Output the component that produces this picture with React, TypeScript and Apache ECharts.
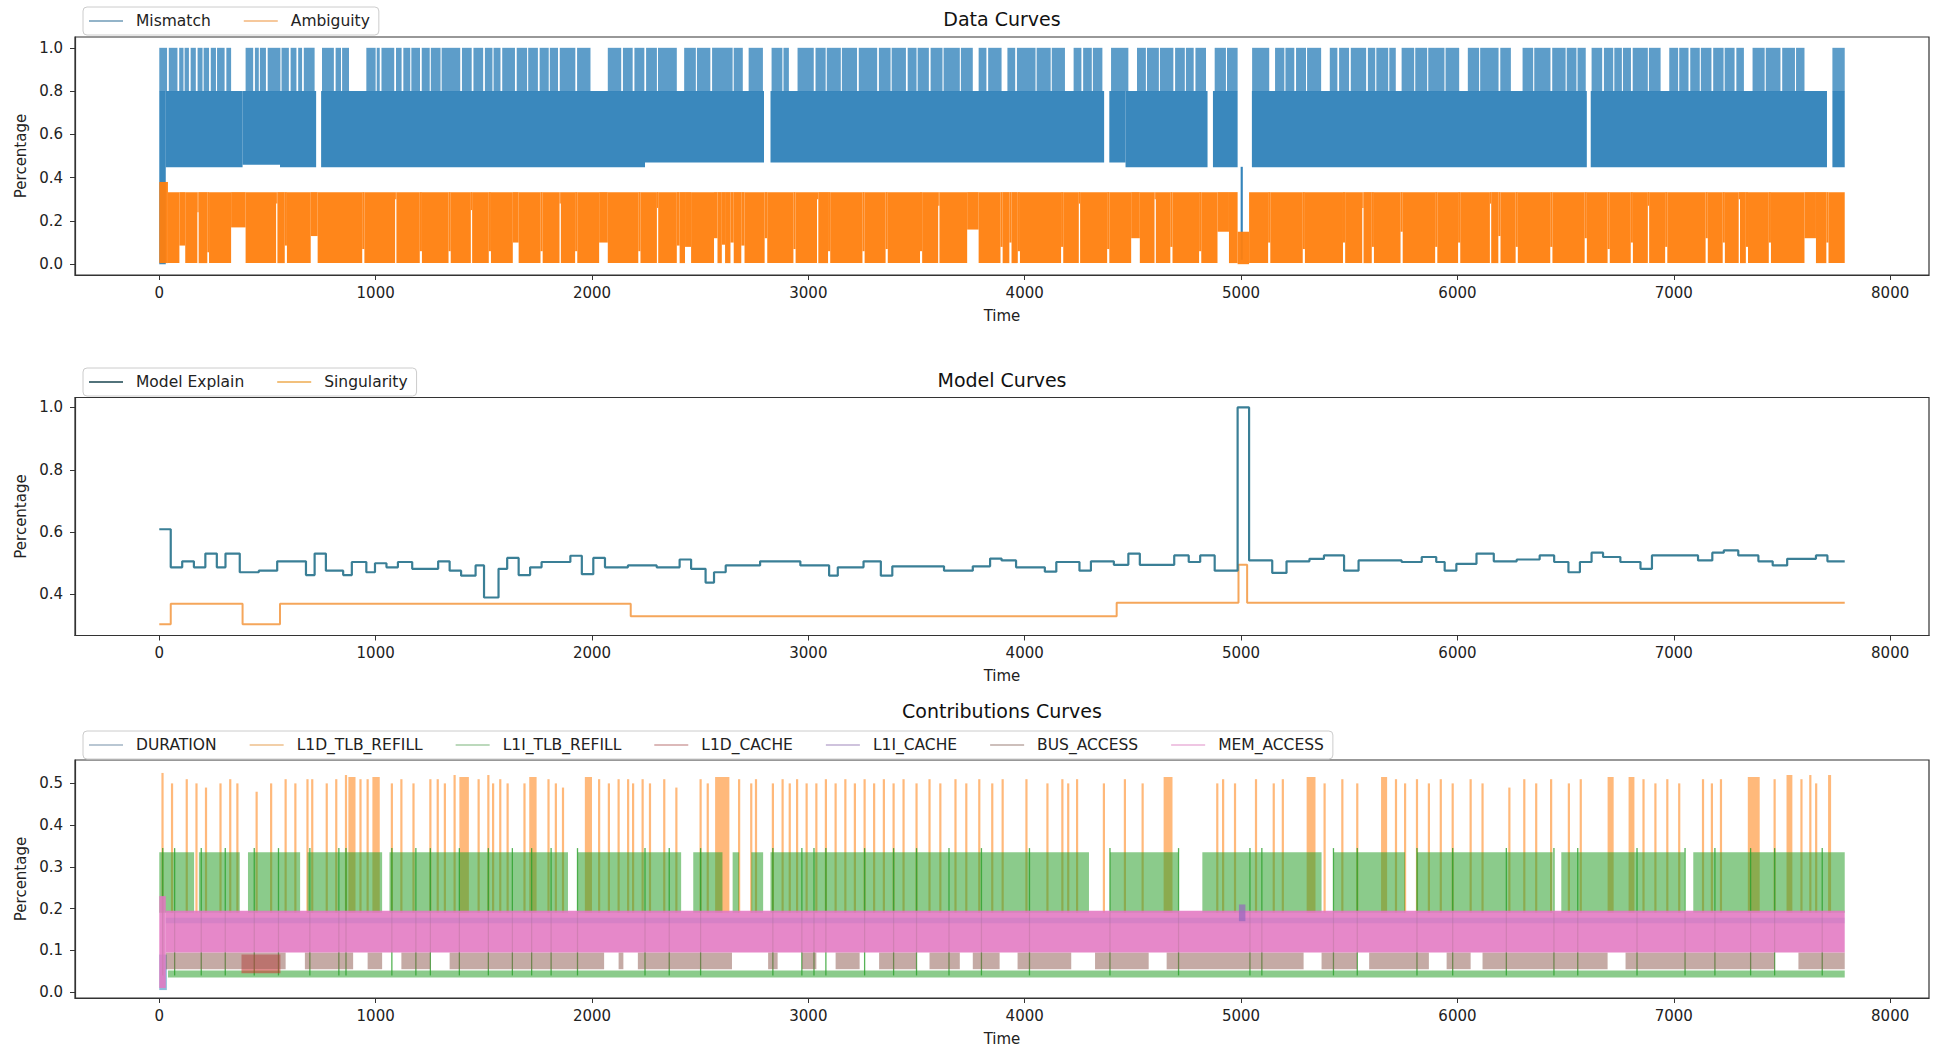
import React, { useEffect, useRef } from "react";
import * as echarts from "echarts";

const FONT = "DejaVu Sans";
const T_END = 7790;

// ---------- axes ----------
const xTicks = [0, 1000, 2000, 3000, 4000, 5000, 6000, 7000, 8000];
const yTicksData = [0, 0.2, 0.4, 0.6, 0.8, 1.0];
const yTicksModel = [0.4, 0.6, 0.8, 1.0];
const yTicksContrib = [0, 0.1, 0.2, 0.3, 0.4, 0.5];

// ---------- Data Curves ----------
// Mismatch: lower edge of the oscillation, step points [t, value]
const mismatchBase = [[0, 0.0], [30, 0.448], [385, 0.46], [558, 0.448], [2245, 0.47], [4466, 0.448]];
const mismatchMid = 0.8;
const mismatchTop = 1.0;
// stretches where Mismatch stays at its lower level
const mismatchBandGaps = [[725, 748], [2795, 2825], [4367, 4391], [4845, 4870], [4984, 5050], [6598, 6616], [7708, 7733]];
// stretches where Mismatch does not reach 1.0
const mismatchPeakGaps = [
  [36, 44], [84, 92], [112, 117], [137, 145], [169, 177], [200, 205], [230, 238], [262, 267], [302, 310], [332, 399],
  [434, 442], [460, 465], [493, 501], [560, 565], [599, 607], [634, 642], [660, 668], [718, 752], [807, 815], [840, 845],
  [877, 957], [1000, 1005], [1019, 1027], [1086, 1094], [1120, 1128], [1160, 1165], [1205, 1213], [1250, 1255], [1300, 1305],
  [1391, 1399], [1444, 1452], [1497, 1505], [1540, 1545], [1577, 1585], [1644, 1652], [1700, 1705], [1750, 1758], [1800, 1805],
  [1843, 1851], [1923, 1931], [1993, 2073], [2135, 2143], [2188, 2196], [2242, 2250], [2300, 2305], [2392, 2426], [2480, 2485],
  [2547, 2555], [2650, 2655], [2697, 2724], [2790, 2830], [2880, 2885], [2910, 2950], [3025, 3033], [3080, 3085], [3150, 3155],
  [3225, 3233], [3318, 3326], [3380, 3385], [3451, 3459], [3500, 3505], [3557, 3565], [3620, 3625], [3700, 3705], [3760, 3787],
  [3823, 3831], [3893, 3920], [3956, 3964], [4050, 4055], [4120, 4125], [4186, 4226], [4262, 4270], [4310, 4315], [4359, 4399],
  [4479, 4519], [4560, 4565], [4620, 4625], [4687, 4695], [4740, 4745], [4781, 4789], [4838, 4878], [4930, 4935], [4984, 5051],
  [5130, 5157], [5200, 5205], [5246, 5254], [5300, 5305], [5370, 5410], [5445, 5453], [5499, 5507], [5578, 5586], [5620, 5625],
  [5680, 5685], [5715, 5742], [5800, 5805], [5860, 5865], [5940, 5945], [6008, 6048], [6100, 6105], [6190, 6198], [6247, 6301],
  [6350, 6355], [6430, 6438], [6500, 6505], [6550, 6555], [6593, 6620], [6669, 6677], [6720, 6725], [6760, 6765], [6802, 6810],
  [6880, 6885], [6939, 6979], [7020, 7025], [7068, 7076], [7120, 7125], [7174, 7182], [7230, 7235], [7281, 7289], [7324, 7364],
  [7420, 7425], [7493, 7501], [7560, 7565], [7604, 7733],
];
const mismatchDip = [[4998, 5008, 0.02, 0.45]];

// Ambiguity: upper / lower levels and notches [t0, t1, raisedLow(, top)]
const ambiguityStart = [[0, 40, 0.005, 0.38]];
const ambiguityLow = 0.005;
const ambiguityHigh = 0.333;
const ambiguityNotches = [
  [93, 120, 0.086], [176, 182, 0.24], [222, 230, 0.055], [332, 399, 0.17], [540, 546, 0.28], [580, 590, 0.086],
  [700, 732, 0.13], [938, 948, 0.07], [1090, 1096, 0.3], [1204, 1214, 0.06], [1337, 1347, 0.06], [1440, 1446, 0.25],
  [1523, 1533, 0.06], [1634, 1661, 0.1], [1762, 1772, 0.06], [1850, 1856, 0.28], [1922, 1932, 0.06], [2033, 2073, 0.1],
  [2214, 2224, 0.06], [2300, 2306, 0.26], [2392, 2405, 0.086], [2430, 2458, 0.08], [2564, 2580, 0.12], [2600, 2615, 0.09],
  [2640, 2655, 0.1], [2690, 2705, 0.086], [2798, 2810, 0.12], [2931, 2941, 0.07], [3040, 3046, 0.3], [3091, 3101, 0.06],
  [3250, 3260, 0.06], [3357, 3367, 0.07], [3516, 3526, 0.06], [3600, 3606, 0.27], [3734, 3787, 0.16], [3888, 3898, 0.08],
  [3929, 3939, 0.1], [3968, 3978, 0.06], [4168, 4178, 0.08], [4250, 4256, 0.28], [4381, 4391, 0.07], [4492, 4532, 0.12],
  [4600, 4606, 0.3], [4673, 4683, 0.08], [4806, 4816, 0.06], [4891, 4944, 0.15], [4984, 5037, 0, 0.15], [5125, 5135, 0.1],
  [5285, 5295, 0.07], [5471, 5481, 0.1], [5560, 5566, 0.26], [5604, 5614, 0.08], [5737, 5747, 0.15], [5897, 5907, 0.08],
  [6003, 6013, 0.1], [6150, 6156, 0.28], [6189, 6199, 0.13], [6269, 6279, 0.08], [6429, 6439, 0.08], [6588, 6598, 0.12],
  [6694, 6704, 0.07], [6801, 6811, 0.1], [6880, 6886, 0.27], [6960, 6970, 0.08], [7147, 7157, 0.12], [7226, 7236, 0.1],
  [7300, 7306, 0.3], [7333, 7343, 0.08], [7439, 7449, 0.1], [7604, 7657, 0.12], [7705, 7715, 0.1],
];

// ---------- Model Curves (step points [t, value]) ----------
const modelExplain = [
  [0, 0.609], [53, 0.487], [106, 0.506], [160, 0.487], [213, 0.531], [266, 0.487], [306, 0.531], [372, 0.471], [460, 0.476],
  [545, 0.506], [678, 0.462], [718, 0.531], [770, 0.476], [850, 0.462], [890, 0.504], [957, 0.471], [997, 0.5], [1050, 0.487],
  [1103, 0.504], [1169, 0.482], [1289, 0.506], [1342, 0.476], [1395, 0.46], [1462, 0.493], [1501, 0.39], [1568, 0.482],
  [1608, 0.517], [1661, 0.462], [1714, 0.487], [1767, 0.504], [1900, 0.524], [1953, 0.465], [2006, 0.517], [2060, 0.487],
  [2166, 0.493], [2299, 0.487], [2405, 0.512], [2458, 0.482], [2525, 0.438], [2564, 0.471], [2618, 0.493], [2777, 0.506],
  [2963, 0.493], [3096, 0.46], [3136, 0.487], [3255, 0.506], [3335, 0.46], [3388, 0.49], [3627, 0.476], [3760, 0.49],
  [3840, 0.515], [3893, 0.509], [3960, 0.487], [4093, 0.473], [4146, 0.504], [4253, 0.476], [4306, 0.506], [4412, 0.495],
  [4479, 0.531], [4532, 0.495], [4691, 0.525], [4758, 0.504], [4811, 0.525], [4878, 0.476], [4984, 1.0], [5037, 0.509],
  [5144, 0.469], [5210, 0.506], [5316, 0.514], [5383, 0.525], [5476, 0.476], [5543, 0.509], [5742, 0.504], [5835, 0.52],
  [5902, 0.504], [5941, 0.476], [5995, 0.498], [6088, 0.531], [6168, 0.506], [6274, 0.512], [6380, 0.525], [6447, 0.504],
  [6513, 0.471], [6566, 0.504], [6620, 0.534], [6673, 0.52], [6753, 0.504], [6846, 0.482], [6899, 0.525], [7112, 0.509],
  [7178, 0.534], [7231, 0.541], [7298, 0.525], [7391, 0.506], [7457, 0.493], [7524, 0.514], [7657, 0.525], [7710, 0.506],
  [7790, 0.506],
];
const singularity = [
  [0, 0.304], [53, 0.37], [385, 0.304], [558, 0.37], [2179, 0.33], [4425, 0.373], [4988, 0.495], [5028, 0.373], [7790, 0.373],
];

// ---------- Contributions Curves ----------
const durationStart = [[0, 35, 0.005, 0.09]];
// L1D_TLB_REFILL spikes [t0, t1, top] rising from the MEM band
const tlbSpikeBase = 0.19;
const l1dTlbSpikes = [
  [12, 18, 0.525], [56, 62, 0.5], [124, 130, 0.51], [169, 175, 0.5], [213, 219, 0.49], [280, 286, 0.5], [325, 331, 0.51],
  [358, 364, 0.5], [447, 453, 0.48], [514, 520, 0.5], [581, 587, 0.51], [626, 632, 0.5], [682, 688, 0.51], [704, 710, 0.51],
  [771, 777, 0.5], [815, 821, 0.51], [860, 866, 0.52], [874, 907, 0.515], [927, 933, 0.51], [960, 966, 0.51], [985, 1019, 0.515],
  [1072, 1078, 0.5], [1116, 1122, 0.51], [1172, 1178, 0.5], [1250, 1256, 0.51], [1284, 1290, 0.51], [1317, 1323, 0.5],
  [1362, 1368, 0.52], [1387, 1431, 0.515], [1473, 1479, 0.51], [1518, 1524, 0.52], [1540, 1546, 0.5], [1573, 1579, 0.51],
  [1607, 1613, 0.5], [1685, 1691, 0.5], [1710, 1744, 0.515], [1796, 1802, 0.51], [1830, 1836, 0.5], [1863, 1869, 0.49],
  [1967, 2000, 0.515], [2030, 2036, 0.51], [2075, 2081, 0.5], [2120, 2126, 0.51], [2164, 2170, 0.51], [2187, 2193, 0.5],
  [2231, 2237, 0.51], [2265, 2271, 0.5], [2331, 2337, 0.51], [2387, 2393, 0.49], [2499, 2505, 0.51], [2532, 2538, 0.5],
  [2569, 2635, 0.515], [2677, 2683, 0.51], [2733, 2739, 0.5], [2755, 2761, 0.51], [2833, 2839, 0.5], [2878, 2884, 0.51],
  [2911, 2917, 0.5], [2945, 2951, 0.51], [2989, 2995, 0.5], [3034, 3040, 0.5], [3078, 3084, 0.51], [3123, 3129, 0.5],
  [3168, 3174, 0.51], [3212, 3218, 0.5], [3257, 3263, 0.51], [3301, 3307, 0.5], [3346, 3352, 0.51], [3391, 3397, 0.5],
  [3437, 3443, 0.51], [3497, 3503, 0.5], [3557, 3563, 0.51], [3607, 3613, 0.5], [3677, 3683, 0.51], [3727, 3733, 0.5],
  [3787, 3793, 0.51], [3847, 3853, 0.5], [3895, 3901, 0.51], [4005, 4011, 0.51], [4102, 4108, 0.5], [4171, 4177, 0.51],
  [4198, 4204, 0.5], [4239, 4245, 0.51], [4363, 4369, 0.5], [4460, 4466, 0.51], [4542, 4548, 0.5], [4642, 4683, 0.515],
  [4887, 4893, 0.5], [4914, 4920, 0.51], [4969, 4975, 0.5], [5066, 5072, 0.51], [5148, 5154, 0.5], [5190, 5196, 0.51],
  [5303, 5344, 0.515], [5383, 5389, 0.5], [5465, 5471, 0.51], [5534, 5540, 0.5], [5647, 5675, 0.515], [5713, 5719, 0.51],
  [5755, 5761, 0.5], [5810, 5816, 0.51], [5865, 5871, 0.5], [5920, 5926, 0.51], [5975, 5981, 0.5], [6058, 6064, 0.51],
  [6113, 6119, 0.5], [6237, 6243, 0.49], [6306, 6312, 0.51], [6361, 6367, 0.5], [6430, 6436, 0.51], [6512, 6518, 0.5],
  [6567, 6573, 0.51], [6694, 6722, 0.515], [6791, 6818, 0.515], [6857, 6863, 0.51], [6912, 6918, 0.5], [6967, 6973, 0.51],
  [7022, 7028, 0.5], [7132, 7138, 0.51], [7173, 7179, 0.5], [7215, 7221, 0.51], [7342, 7397, 0.515], [7463, 7469, 0.51],
  [7521, 7548, 0.52], [7587, 7593, 0.51], [7628, 7634, 0.52], [7655, 7661, 0.5], [7713, 7727, 0.52],
];
// L1I_TLB_REFILL: main band, its gaps, strongest lines, bottom level
const l1iTlbBand = [0.19, 0.335];
const l1iTlbGaps = [
  [161, 183], [372, 410], [651, 685], [1030, 1064], [1889, 1933], [2412, 2468], [2603, 2650], [2680, 2736], [2791, 2825],
  [4297, 4394], [4711, 4821], [5372, 5427], [5758, 5813], [6440, 6480], [7050, 7090],
];
const l1iTlbLines = [
  16, 71, 194, 305, 439, 551, 696, 830, 863, 1075, 1186, 1253, 1387, 1521, 1632, 1721, 1811, 1933, 2245, 2357, 2502, 2836,
  2970, 3026, 3081, 3260, 3394, 3500, 3650, 3800, 4022, 4394, 4711, 5041, 5096, 5427, 5537, 5813, 5978, 6226, 6446, 6556,
  6830, 7052, 7190, 7355, 7466, 7686,
];
const l1iTlbLineRange = [0.04, 0.345];
const l1iTlbFloor = [[40, T_END, 0.035, 0.052]];
const l1dCacheBlock = [[380, 560, 0.045, 0.09]];
const l1iCacheBand = [[30, T_END, 0.165, 0.178]];
const l1iCacheBump = [[4990, 5020, 0.17, 0.21]];
const busAccessBand = [0.055, 0.095];
const busAccessGaps = [
  [584, 673], [896, 963], [1030, 1119], [1253, 1342], [2056, 2123], [2145, 2212], [2647, 2814], [2858, 2970], [3037, 3126],
  [3237, 3327], [3500, 3560], [3700, 3760], [3884, 3967], [4215, 4325], [4573, 4656], [5289, 5372], [5537, 5592], [5868, 5950],
  [6061, 6116], [6694, 6777], [7466, 7576],
];
const memAccessStart = [[0, 30, 0.01, 0.23]];
const memAccessBand = [0.095, 0.195];

// ---------- helpers ----------
type Seg = number[];
function splitBand(t0: number, t1: number, lo: number, hi: number, holes: number[][]): Seg[] {
  const segs: Seg[] = [];
  let cur = t0;
  const hs = holes.filter((h) => h[1] > t0 && h[0] < t1).sort((a, b) => a[0] - b[0]);
  for (const h of hs) {
    const a = Math.max(h[0], cur);
    const b = Math.min(h[1], t1);
    if (b <= a) continue;
    if (a > cur) segs.push([cur, a, lo, hi]);
    if (h.length >= 3) {
      const nlo = h[2];
      const nhi = h.length >= 4 ? h[3] : hi;
      if (nhi > nlo) segs.push([a, b, nlo, nhi]);
    }
    cur = b;
  }
  if (cur < t1) segs.push([cur, t1, lo, hi]);
  return segs;
}

function band(name: string, data: Seg[], color: string, opacity: number, gi: number, z = 2, minW = 1) {
  return {
    type: "custom",
    name,
    xAxisIndex: gi,
    yAxisIndex: gi,
    data,
    z,
    silent: true,
    encode: { x: [0, 1], y: [2, 3] },
    itemStyle: { color },
    renderItem: (_p: any, api: any) => {
      const a = api.coord([api.value(0), api.value(3)]);
      const b = api.coord([api.value(1), api.value(2)]);
      const w = Math.max(b[0] - a[0], minW);
      return {
        type: "rect",
        shape: { x: (a[0] + b[0]) / 2 - w / 2, y: a[1], width: w, height: Math.max(b[1] - a[1], 1) },
        style: { fill: color, opacity },
      };
    },
  };
}

function buildOption() {
  // Mismatch
  const mmLower: Seg[] = [];
  mismatchBase.forEach(([t0, base], i) => {
    const t1 = i + 1 < mismatchBase.length ? mismatchBase[i + 1][0] : T_END;
    mmLower.push(...splitBand(t0, t1, base, mismatchMid, mismatchBandGaps));
  });
  const mmUpper = splitBand(0, T_END, mismatchMid, mismatchTop, mismatchPeakGaps);
  const amb = [...ambiguityStart, ...splitBand(40, T_END, ambiguityLow, ambiguityHigh, ambiguityNotches)];

  const orange = l1dTlbSpikes.map(([a, b, top]) => [a, b, tlbSpikeBase, top]);
  const greenBand = splitBand(0, T_END, l1iTlbBand[0], l1iTlbBand[1], l1iTlbGaps);
  const greenLines = l1iTlbLines.map((t) => [t - 3, t + 3, l1iTlbLineRange[0], l1iTlbLineRange[1]]);
  const brown = splitBand(30, T_END, busAccessBand[0], busAccessBand[1], busAccessGaps);
  const pink = [...memAccessStart, [30, T_END, memAccessBand[0], memAccessBand[1]]];

  const gridDefs = [
    { left: 75, top: 37, width: 1854, height: 238 },
    { left: 75, top: 397.5, width: 1854, height: 238 },
    { left: 75, top: 760, width: 1854, height: 238 },
  ];
  const yDefs = [
    { min: -0.05, max: 1.05, ticks: yTicksData },
    { min: 0.268, max: 1.032, ticks: yTicksModel },
    { min: -0.014, max: 0.556, ticks: yTicksContrib },
  ];
  const axisColor = "#333";
  const textColor = "#222";

  const legendBase = {
    left: 83,
    orient: "horizontal",
    icon: "rect",
    itemWidth: 34,
    itemHeight: 2,
    itemGap: 33,
    padding: [6, 9, 6, 6],
    backgroundColor: "rgba(255,255,255,0.9)",
    borderColor: "#cccccc",
    borderWidth: 1,
    borderRadius: 4,
    selectedMode: false,
    textStyle: { fontSize: 15.5, color: textColor, fontFamily: FONT, padding: [0, 0, 0, 8] },
    z: 10,
  };

  return {
    animation: false,
    backgroundColor: "#ffffff",
    grid: gridDefs.map((g) => ({ ...g, show: true, borderColor: axisColor, borderWidth: 1.2, backgroundColor: "transparent" })),
    xAxis: gridDefs.map((_g, i) => ({
      type: "value",
      gridIndex: i,
      min: -389.5,
      max: 8179.5,
      splitNumber: 8,
      axisLine: { show: true, onZero: false, lineStyle: { color: axisColor, width: 1.2 } },
      axisTick: { show: true, length: 5, lineStyle: { color: axisColor }, customValues: xTicks },
      axisLabel: {
        customValues: xTicks,
        formatter: (v: number) => String(v),
        fontSize: 15,
        color: textColor,
        fontFamily: FONT,
        margin: 10,
      },
      splitLine: { show: false },
      name: "Time",
      nameLocation: "middle",
      nameGap: 33,
      nameTextStyle: { fontSize: 15, color: textColor, fontFamily: FONT },
    })),
    yAxis: yDefs.map((y, i) => ({
      type: "value",
      gridIndex: i,
      min: y.min,
      max: y.max,
      axisLine: { show: true, onZero: false, lineStyle: { color: axisColor, width: 1.2 } },
      axisTick: { show: true, length: 5, lineStyle: { color: axisColor }, customValues: y.ticks },
      axisLabel: {
        customValues: y.ticks,
        formatter: (v: number) => v.toFixed(1),
        fontSize: 15,
        color: textColor,
        fontFamily: FONT,
        margin: 12,
      },
      splitLine: { show: false },
      name: "Percentage",
      nameLocation: "middle",
      nameRotate: 90,
      nameGap: 45,
      nameTextStyle: { fontSize: 15, color: textColor, fontFamily: FONT },
    })),
    legend: [
      {
        ...legendBase,
        top: 7,
        data: [
          { name: "Mismatch", itemStyle: { color: "#93b4c9" } },
          { name: "Ambiguity", itemStyle: { color: "#f6c89c" } },
        ],
      },
      {
        ...legendBase,
        top: 368,
        data: [
          { name: "Model Explain", itemStyle: { color: "#52737b" } },
          { name: "Singularity", itemStyle: { color: "#f2c07c" } },
        ],
      },
      {
        ...legendBase,
        top: 731,
        data: [
          { name: "DURATION", itemStyle: { color: "#b9c7d3" } },
          { name: "L1D_TLB_REFILL", itemStyle: { color: "#f2cfa8" } },
          { name: "L1I_TLB_REFILL", itemStyle: { color: "#bcd9bc" } },
          { name: "L1D_CACHE", itemStyle: { color: "#dcb9b9" } },
          { name: "L1I_CACHE", itemStyle: { color: "#cfc3dd" } },
          { name: "BUS_ACCESS", itemStyle: { color: "#cdbfbb" } },
          { name: "MEM_ACCESS", itemStyle: { color: "#efc6e3" } },
        ],
      },
    ],
    graphic: [
      { type: "text", x: 1002, y: 18.5, style: { text: "Data Curves", fontSize: 19, fontFamily: FONT, fill: "#111", textAlign: "center", textVerticalAlign: "middle" } },
      { type: "text", x: 1002, y: 380, style: { text: "Model Curves", fontSize: 19, fontFamily: FONT, fill: "#111", textAlign: "center", textVerticalAlign: "middle" } },
      { type: "text", x: 1002, y: 711, style: { text: "Contributions Curves", fontSize: 19, fontFamily: FONT, fill: "#111", textAlign: "center", textVerticalAlign: "middle" } },
    ],
    series: [
      // Data Curves
      band("Mismatch", mmLower, "#1f77b4", 0.88, 0),
      band("Mismatch", mmUpper, "#1f77b4", 0.72, 0),
      band("Mismatch", mismatchDip, "#1f77b4", 0.9, 0),
      band("Ambiguity", amb, "#ff7f0e", 0.95, 0, 3),
      // Model Curves
      {
        type: "line",
        name: "Model Explain",
        xAxisIndex: 1,
        yAxisIndex: 1,
        data: modelExplain,
        step: "end",
        showSymbol: false,
        lineStyle: { color: "#3a7f96", width: 2.2 },
        itemStyle: { color: "#3a7f96" },
        z: 3,
      },
      {
        type: "line",
        name: "Singularity",
        xAxisIndex: 1,
        yAxisIndex: 1,
        data: singularity,
        step: "end",
        showSymbol: false,
        lineStyle: { color: "#f5a65b", width: 2 },
        itemStyle: { color: "#f5a65b" },
        z: 2,
      },
      // Contributions Curves
      band("DURATION", durationStart, "#1f77b4", 0.5, 2, 2),
      band("L1D_TLB_REFILL", orange, "#ff7f0e", 0.55, 2, 2, 2.2),
      band("L1I_TLB_REFILL", greenBand, "#2ca02c", 0.55, 2, 3),
      band("L1I_TLB_REFILL", greenLines, "#2ca02c", 0.8, 2, 3),
      band("L1I_TLB_REFILL", l1iTlbFloor, "#2ca02c", 0.55, 2, 3),
      band("L1D_CACHE", l1dCacheBlock, "#d62728", 0.5, 2, 4),
      band("BUS_ACCESS", brown, "#8c564b", 0.5, 2, 4),
      band("MEM_ACCESS", pink, "#e377c2", 0.88, 2, 5),
      band("L1I_CACHE", l1iCacheBand, "#9467bd", 0.2, 2, 6),
      band("L1I_CACHE", l1iCacheBump, "#9467bd", 0.7, 2, 6),
    ],
  };
}

export default function App() {
  const ref = useRef<HTMLDivElement>(null);
  useEffect(() => {
    if (!ref.current) return;
    const chart = echarts.init(ref.current, null, { renderer: "svg" });
    chart.setOption(buildOption() as any);
    return () => chart.dispose();
  }, []);
  return (
    <div
      ref={ref}
      style={{ position: "fixed", left: 0, top: 0, width: 1936, height: 1051, background: "#ffffff" }}
    />
  );
}
